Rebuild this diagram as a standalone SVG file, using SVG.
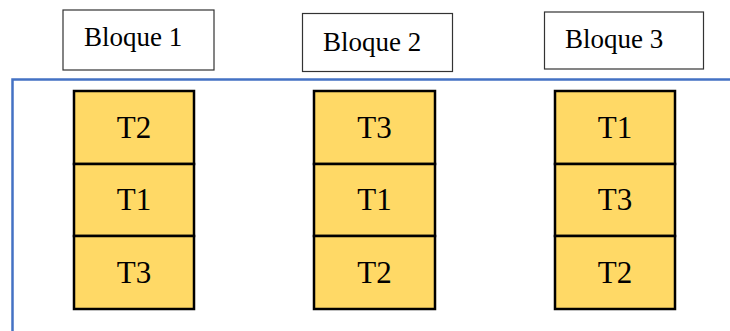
<svg xmlns="http://www.w3.org/2000/svg" width="730" height="331" viewBox="0 0 730 331">
<style>
.blk{fill:#fff;stroke:#333;stroke-width:1.2}
.cell{fill:#FFD966;stroke:#000;stroke-width:2.5}
.bt{font-family:"Liberation Serif","Times New Roman",serif;font-size:27px;fill:#000}
.ct{font-family:"Liberation Serif","Times New Roman",serif;font-size:31px;fill:#000;text-anchor:middle}
.frame{fill:none;stroke:#4472C4;stroke-width:2.5}
</style>
<rect width="730" height="331" fill="#fff"/>
<g id="connectors">
<path class="frame" d="M730,79.5 H12.5 V331"/>
</g>
<g id="bloque1"><rect class="blk" x="63" y="10" width="151" height="60"/><text class="bt" x="84" y="46">Bloque 1</text></g>
<g id="bloque2"><rect class="blk" x="302.5" y="13.5" width="150" height="58"/><text class="bt" x="323" y="51">Bloque 2</text></g>
<g id="bloque3"><rect class="blk" x="544.5" y="12" width="159" height="57"/><text class="bt" x="565" y="48">Bloque 3</text></g>
<g id="stack1">
<rect class="cell" x="74" y="91" width="120" height="73"/><text class="ct" x="134" y="138">T2</text>
<rect class="cell" x="74" y="164" width="120" height="72"/><text class="ct" x="134" y="210">T1</text>
<rect class="cell" x="74" y="236" width="120" height="73"/><text class="ct" x="134" y="283">T3</text>
</g>
<g id="stack2">
<rect class="cell" x="314" y="91" width="121" height="73"/><text class="ct" x="374.5" y="138">T3</text>
<rect class="cell" x="314" y="164" width="121" height="72"/><text class="ct" x="374.5" y="210">T1</text>
<rect class="cell" x="314" y="236" width="121" height="73"/><text class="ct" x="374.5" y="283">T2</text>
</g>
<g id="stack3">
<rect class="cell" x="555" y="91" width="120" height="73"/><text class="ct" x="615" y="138">T1</text>
<rect class="cell" x="555" y="164" width="120" height="72"/><text class="ct" x="615" y="210">T3</text>
<rect class="cell" x="555" y="236" width="120" height="73"/><text class="ct" x="615" y="283">T2</text>
</g>
</svg>
